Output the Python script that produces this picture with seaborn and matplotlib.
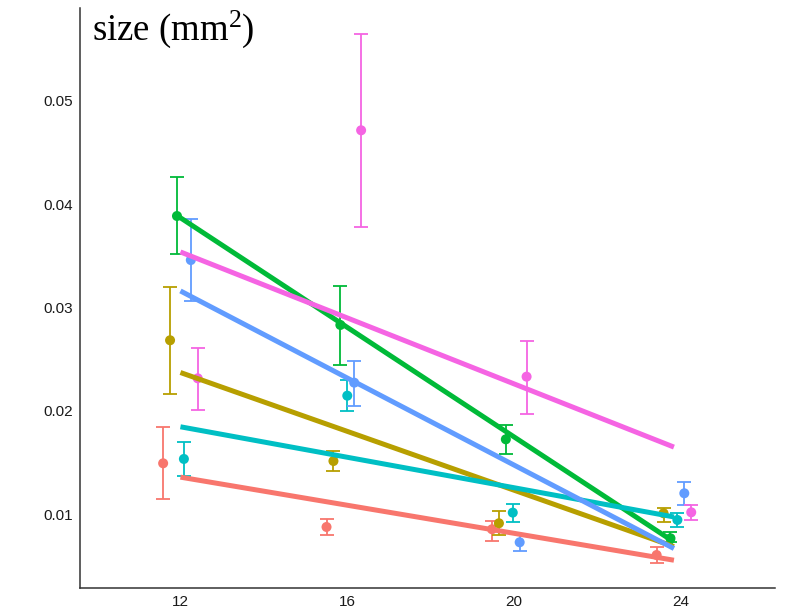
import numpy as np
import pandas as pd
import seaborn as sns
import matplotlib.pyplot as plt

# Datos
temps = [12.0, 15.92, 19.89, 23.84]
grupos = ["A", "B", "C", "D", "E", "F"]
colores = ["#F8766D", "#B79F00", "#00BA38", "#00BFC4", "#619CFF", "#F564E3"]

media = {
    "A": [0.01493, 0.00877, 0.00855, 0.00606],
    "B": [0.02683, 0.01515, 0.00913, 0.01010],
    "C": [0.03885, 0.02831, 0.01725, 0.00768],
    "D": [0.01535, 0.02147, 0.01016, 0.00945],
    "E": [0.03459, 0.02273, 0.00729, 0.01203],
    "F": [0.02315, 0.04714, 0.02331, 0.01019],
}
sup = {
    "A": [0.01841, 0.00952, 0.00938, 0.00687],
    "B": [0.03198, 0.01609, 0.01029, 0.01064],
    "C": [0.04259, 0.03205, 0.01860, 0.00826],
    "D": [0.01700, 0.02302, 0.01100, 0.01010],
    "E": [0.03853, 0.02486, 0.00809, 0.01310],
    "F": [0.02605, 0.05642, 0.02679, 0.01090],
}
inf = {
    "A": [0.01148, 0.00800, 0.00739, 0.00529],
    "B": [0.02166, 0.01419, 0.00797, 0.00928],
    "C": [0.03517, 0.02444, 0.01580, 0.00729],
    "D": [0.01373, 0.01999, 0.00926, 0.00880],
    "E": [0.03066, 0.02047, 0.00648, 0.01093],
    "F": [0.02009, 0.03776, 0.01970, 0.00945],
}

filas = []
for g in grupos:
    for i, t in enumerate(temps):
        filas.append({"temp": t, "grupo": g, "size": media[g][i],
                      "hi": sup[g][i], "lo": inf[g][i]})
df = pd.DataFrame(filas)

# desplazamiento tipo position_dodge
ancho = 0.166
offs = {g: (k - 2.5) * ancho for k, g in enumerate(grupos)}
df["xd"] = df["temp"] + df["grupo"].map(offs)

sns.set_style("white")
plt.rcParams["mathtext.fontset"] = "custom"
plt.rcParams["mathtext.rm"] = "Liberation Serif"
plt.rcParams["mathtext.it"] = "Liberation Serif:italic"

fig = plt.figure(figsize=(7.85, 6.1), dpi=100)
ax = fig.add_axes([0.1019, 0.0361, 0.8851, 0.9508])
pal = dict(zip(grupos, colores))

for g in grupos:
    d = df[df["grupo"] == g]
    ax.errorbar(d["xd"], d["size"], yerr=[d["size"] - d["lo"], d["hi"] - d["size"]],
                fmt="none", ecolor=pal[g], elinewidth=1.3, capsize=5, capthick=1.3,
                zorder=2)

sns.scatterplot(data=df, x="xd", y="size", hue="grupo", palette=pal, s=52,
                linewidth=0, legend=False, ax=ax, zorder=3)

for g in grupos:
    d = df[df["grupo"] == g]
    sns.regplot(data=d, x="temp", y="size", scatter=False, ci=None, truncate=True,
                color=pal[g], line_kws={"linewidth": 3.6, "solid_capstyle": "butt",
                                        "zorder": 4}, ax=ax)

ax.set_xlim(9.59, 26.26)
ax.set_ylim(0.00268 + 0.00019, 0.05897)
ax.set_xticks([12, 16, 20, 24])
ax.set_yticks([0.01, 0.02, 0.03, 0.04, 0.05])
ax.set_yticklabels(["0.01", "0.02", "0.03", "0.04", "0.05"])
ax.set_xlabel("")
ax.set_ylabel("")
for s in ["top", "right"]:
    ax.spines[s].set_visible(False)
for s in ["left", "bottom"]:
    ax.spines[s].set_color("#333333")
    ax.spines[s].set_linewidth(1.1)
ax.tick_params(axis="both", length=3, width=1, color="#333333",
               labelsize=11, labelcolor="#1a1a1a", pad=2)
for lab in ax.get_xticklabels() + ax.get_yticklabels():
    lab.set_family("Liberation Sans")

fig.text(92 / 785, 1 - 40 / 610, r"size (mm$^{2}$)", family="Liberation Serif",
         fontsize=26.5, va="baseline", ha="left", color="black")

fig.savefig("out.png", dpi=100)
